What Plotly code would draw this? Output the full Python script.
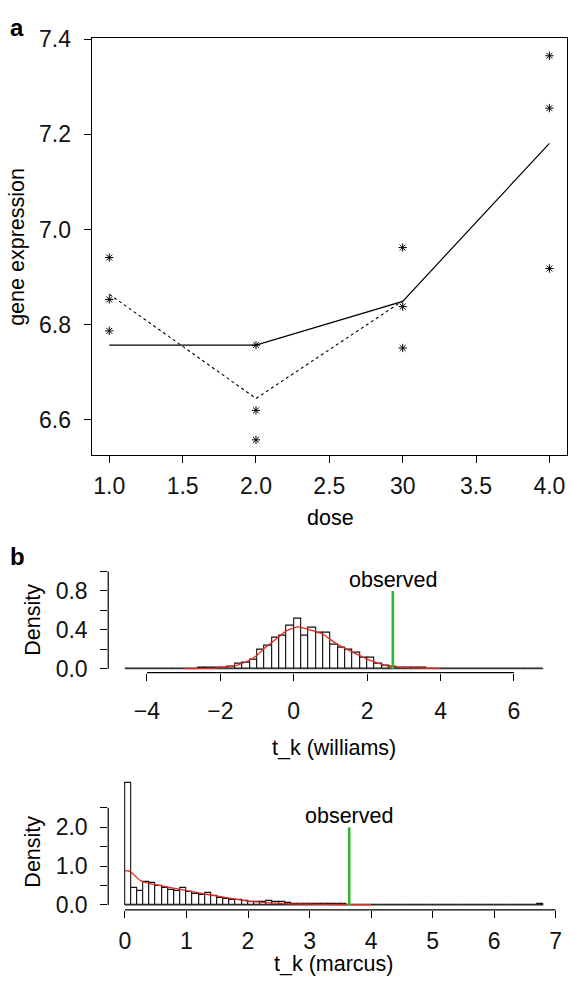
import plotly.graph_objects as go

# ---------------- data: panel a ----------------
obs_dose = [1, 1, 1, 2, 2, 2, 3, 3, 3, 4, 4, 4]
obs_expr = [6.941, 6.853, 6.787, 6.757, 6.620, 6.558, 6.962, 6.838, 6.751, 7.365, 7.255, 6.918]
mean_dose = [1, 2, 3]
mean_expr = [6.864, 6.645, 6.850]
fit_dose = [1, 2, 3, 4]
fit_expr = [6.757, 6.757, 6.849, 7.181]
a_xticks = [1.0, 1.5, 2.0, 2.5, 3.0, 3.5, 4.0]
a_xlabels = ["1.0", "1.5", "2.0", "2.5", "30", "3.5", "4.0"]
a_yticks = [6.6, 6.8, 7.0, 7.2, 7.4]
a_ylabels = ["6.6", "6.8", "7.0", "7.2", "7.4"]

# ---------------- data: williams histogram ----------------
will_start, will_width = -4.6, 0.2
will_heights = [
    0.005, 0, 0.005, 0, 0.005, 0, 0, 0, 0.003, 0.003,
    0.007, 0.007, 0.007, 0.01, 0.02, 0.05, 0.064, 0.094, 0.195, 0.238,
    0.322, 0.339, 0.446, 0.515, 0.339, 0.419, 0.372, 0.369, 0.252, 0.218,
    0.195, 0.161, 0.115, 0.111, 0.055, 0.037, 0.02, 0.01, 0.01, 0.007,
    0.007, 0.003, 0.002, 0, 0, 0, 0, 0, 0, 0,
    0, 0, 0, 0, 0, 0, 0.004,
]
will_dens_x = [-3.0, -2.5, -2.0, -1.6, -1.2, -1.0, -0.8, -0.6, -0.4, -0.2, 0.0, 0.1, 0.2, 0.4,
               0.6, 0.8, 1.0, 1.2, 1.4, 1.6, 1.8, 2.0, 2.2, 2.4, 2.6, 2.8, 3.0, 3.4, 3.7, 4.0]
will_dens_y = [0.001, 0.004, 0.012, 0.03, 0.09, 0.14, 0.21, 0.27, 0.33, 0.39, 0.42, 0.43, 0.425, 0.405,
               0.38, 0.355, 0.30, 0.25, 0.21, 0.17, 0.135, 0.10, 0.07, 0.045, 0.025, 0.017, 0.012, 0.008, 0.004, 0.001]
will_observed = 2.70
will_obs_top = 0.8
will_xticks = [-4, -2, 0, 2, 4, 6]
will_xlabels = ["\u22124", "\u22122", "0", "2", "4", "6"]
will_yticks = [0.0, 0.2, 0.4, 0.6, 0.8, 1.0]
will_ylabels = ["0.0", "", "0.4", "", "0.8", ""]

# ---------------- data: marcus histogram ----------------
marc_start, marc_width = 0.0, 0.1
marc_heights = [
    3.145, 0.437, 0.353, 0.58, 0.563, 0.496, 0.445, 0.395, 0.361, 0.429,
    0.345, 0.277, 0.244, 0.303, 0.227, 0.185, 0.15, 0.14, 0.126, 0.10,
    0.084, 0.084, 0.067, 0.10, 0.076, 0.067, 0.04, 0.034, 0.025, 0.025,
    0.017, 0.017, 0.017, 0.012, 0.012, 0.012, 0.01, 0.008, 0.005, 0.003,
    0, 0, 0, 0, 0, 0, 0, 0, 0, 0,
    0, 0, 0, 0, 0, 0, 0, 0, 0, 0,
    0, 0, 0, 0, 0, 0, 0, 0.012,
]
marc_dens_x = [0.0, 0.05, 0.1, 0.15, 0.2, 0.25, 0.3, 0.4, 0.5, 0.7, 1.0, 1.2, 1.5, 1.75,
               2.0, 2.3, 2.6, 3.0, 3.3, 3.65, 4.0]
marc_dens_y = [0.87, 0.88, 0.84, 0.77, 0.69, 0.63, 0.59, 0.55, 0.52, 0.46, 0.37, 0.31, 0.225, 0.16,
               0.10, 0.06, 0.035, 0.018, 0.013, 0.01, 0.005]
marc_observed = 3.645
marc_obs_top = 2.0
marc_xticks = [0, 1, 2, 3, 4, 5, 6, 7]
marc_xlabels = ["0", "1", "2", "3", "4", "5", "6", "7"]
marc_yticks = [0.0, 0.5, 1.0, 1.5, 2.0, 2.5]
marc_ylabels = ["0.0", "", "1.0", "", "2.0", ""]

FONT = "Liberation Sans, Arial, Helvetica, sans-serif"
W, H = 572, 988
TICKFS = 23
TXTFS = 21.5
GREEN = "#2EB82E"
RED = "#E8281E"

fig = go.Figure()

# panel a
fig.add_trace(go.Scatter(x=fit_dose, y=fit_expr, mode="lines",
                         line=dict(color="black", width=1.2), xaxis="x", yaxis="y"))
fig.add_trace(go.Scatter(x=mean_dose, y=mean_expr, mode="lines",
                         line=dict(color="black", width=1.1, dash="3px,3px"), xaxis="x", yaxis="y"))
fig.add_trace(go.Scatter(x=obs_dose, y=obs_expr, mode="markers",
                         marker=dict(symbol="asterisk-open", size=7, color="black",
                                     line=dict(color="black", width=1)), xaxis="x", yaxis="y"))


def hist_traces(start, width, heights, xa, ya):
    centers = [start + width * (i + 0.5) for i in range(len(heights))]
    end = start + width * len(heights)
    fig.add_trace(go.Scatter(x=[start, end], y=[0, 0], mode="lines",
                             line=dict(color="#333333", width=1.2), xaxis=xa, yaxis=ya))
    fig.add_trace(go.Bar(x=centers, y=heights, width=width,
                         marker=dict(color="white", line=dict(color="#111111", width=1.1)),
                         xaxis=xa, yaxis=ya))


hist_traces(will_start, will_width, will_heights, "x2", "y2")
fig.add_trace(go.Scatter(x=will_dens_x, y=will_dens_y, mode="lines",
                         line=dict(color=RED, width=1.3, shape="spline"), xaxis="x2", yaxis="y2"))
fig.add_trace(go.Scatter(x=[will_observed, will_observed], y=[0, will_obs_top], mode="lines",
                         line=dict(color=GREEN, width=2.6), xaxis="x2", yaxis="y2"))

hist_traces(marc_start, marc_width, marc_heights, "x3", "y3")
fig.add_trace(go.Scatter(x=marc_dens_x, y=marc_dens_y, mode="lines",
                         line=dict(color=RED, width=1.3, shape="spline"), xaxis="x3", yaxis="y3"))
fig.add_trace(go.Scatter(x=[marc_observed, marc_observed], y=[0, marc_obs_top], mode="lines",
                         line=dict(color=GREEN, width=2.6), xaxis="x3", yaxis="y3"))

tickfont = dict(family=FONT, size=TICKFS, color="#111111")
common = dict(ticks="outside", ticklen=7, tickwidth=1, tickcolor="black",
              tickfont=tickfont, showgrid=False, zeroline=False)

def py(p):  # pixel from top -> paper
    return 1 - p / H

def px(p):
    return p / W

layout = dict(
    width=W, height=H, margin=dict(l=0, r=0, t=0, b=0),
    paper_bgcolor="white", plot_bgcolor="white", showlegend=False, bargap=0,
    font=dict(family=FONT, size=TXTFS, color="#111111"),
    xaxis=dict(domain=[px(92), px(569)], range=[0.88, 4.12], tickvals=a_xticks, ticktext=a_xlabels,
               showline=True, mirror=True, linecolor="black", linewidth=1.2, anchor="y",
               ticklabelstandoff=3, **common),
    yaxis=dict(domain=[py(452.7), py(27)], range=[6.526, 7.4015], tickvals=a_yticks, ticktext=a_ylabels,
               showline=True, mirror=True, linecolor="black", linewidth=1.2, anchor="x",
               ticklabelstandoff=8, **common),
    xaxis2=dict(domain=[px(108.6), px(562)], range=[-5.056, 7.256], tickvals=will_xticks,
                ticktext=will_xlabels, showline=False, anchor="y2", ticklabelstandoff=11, **common),
    yaxis2=dict(domain=[py(675), py(567.7)], range=[-0.04, 1.04], tickvals=will_yticks,
                ticktext=will_ylabels, showline=False, anchor="x2", ticklabelstandoff=8, **common),
    xaxis3=dict(domain=[px(108.6), px(562)], range=[-0.272, 7.072], tickvals=marc_xticks,
                ticktext=marc_xlabels, showline=False, anchor="y3", ticklabelstandoff=4, **common),
    yaxis3=dict(domain=[py(917.3), py(782.6)], range=[-0.126, 3.27], tickvals=marc_yticks,
                ticktext=marc_ylabels, showline=False, anchor="x3", ticklabelstandoff=8, **common),
)
fig.update_layout(**layout)

# R-style axis lines spanning only the tick range
ax_line = dict(color="black", width=1.2)
fig.add_shape(type="line", xref="x2", yref="y2 domain", x0=will_xticks[0], x1=will_xticks[-1], y0=0, y1=0, line=ax_line)
fig.add_shape(type="line", xref="x2 domain", yref="y2", x0=0, x1=0, y0=will_yticks[0], y1=will_yticks[-1], line=ax_line)
fig.add_shape(type="line", xref="x3", yref="y3 domain", x0=marc_xticks[0], x1=marc_xticks[-1], y0=0, y1=0, line=ax_line)
fig.add_shape(type="line", xref="x3 domain", yref="y3", x0=0, x1=0, y0=marc_yticks[0], y1=marc_yticks[-1], line=ax_line)

ann = []
def txt(text, x, y, size=TXTFS, angle=0, bold=False, xanchor="center", yanchor="middle"):
    ann.append(dict(text=("<b>%s</b>" % text) if bold else text, x=px(x), y=py(y), xref="paper", yref="paper",
                    showarrow=False, textangle=angle, xanchor=xanchor, yanchor=yanchor,
                    font=dict(family=FONT, size=size, color="black")))

txt("a", 8, 0, size=24, bold=True, xanchor="left", yanchor="top")
txt("b", 8, 556, size=24, bold=True, xanchor="left")
txt("gene expression", 17, 240, angle=-90)
txt("dose", 332, 517)
txt("Density", 33, 621, angle=-90)
txt("t_k (williams)", 335, 752)
txt("Density", 33, 858, angle=-90)
txt("t_k (marcus)", 335, 973)

for obs, top, xa, ya in [(will_observed, will_obs_top, "x2", "y2"), (marc_observed, marc_obs_top, "x3", "y3")]:
    ann.append(dict(text="observed", x=obs, y=top, xref=xa, yref=ya, showarrow=False,
                    xanchor="center", yanchor="bottom", yshift=-3,
                    font=dict(family=FONT, size=TXTFS, color="black")))

fig.update_layout(annotations=ann)
fig.write_html("out.html", config={"displayModeBar": False},
               post_script="document.body.style.margin='0';document.body.style.overflow='hidden';")
